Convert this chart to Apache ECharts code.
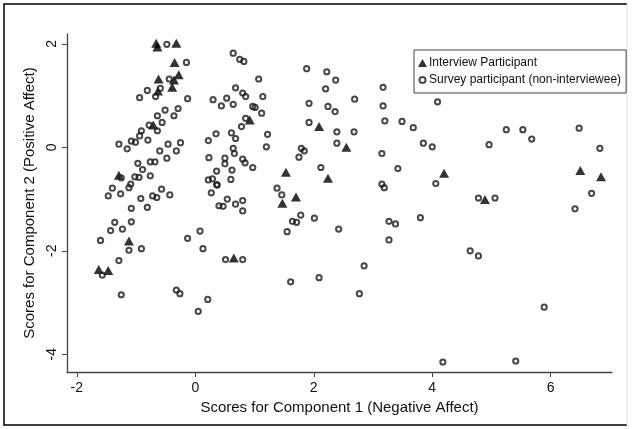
<!DOCTYPE html>
<html>
<head>
<meta charset="utf-8">
<script src="https://cdn.jsdelivr.net/npm/echarts@6/dist/echarts.min.js"></script>
<style>
  html, body { margin: 0; padding: 0; background: #fff; }
  #main { width: 638px; height: 429px; }
</style>
</head>
<body>
<div id="main"></div>
<script>
// 坐标轴刻度
var xTicks = [-2, 0, 2, 4, 6];
var yTicks = [-4, -2, 0, 2];

// Interview Participant (triangles)
var interviewPts = [
  [-0.66, 2.01], [-0.64, 1.94], [-0.32, 2.01], [-0.35, 1.64], [-0.62, 1.32],
  [-0.28, 1.40], [-0.36, 1.30], [-0.39, 1.16], [-0.63, 1.09], [-0.71, 0.43],
  [-1.29, -0.54], [-1.12, -1.81], [-1.63, -2.36], [-1.47, -2.38], [0.92, 0.53],
  [2.09, 0.40], [2.55, 0.00], [0.65, -2.14], [1.53, -0.48], [2.24, -0.60],
  [1.70, -0.96], [1.47, -1.08], [4.20, -0.50], [4.89, -1.01], [6.50, -0.45],
  [6.85, -0.57]
];

// Survey participant (non-interviewee) (hollow circles)
var surveyPts = [
  [-0.48, 1.99], [-0.15, 1.64], [-0.44, 1.32], [-0.59, 1.14], [-0.81, 1.10],
  [-0.94, 0.96], [-0.67, 0.98], [-0.13, 0.94], [0.30, 0.92], [-0.29, 0.75],
  [-0.51, 0.72], [-0.64, 0.61], [-0.36, 0.61], [-0.56, 0.48], [-0.78, 0.43],
  [-0.91, 0.32], [-0.64, 0.32], [-0.94, 0.22], [-1.29, 0.06], [-1.08, 0.12],
  [-1.01, 0.10], [-0.80, 0.14], [-1.15, -0.03], [-0.46, 0.06], [-0.25, 0.09],
  [-0.60, -0.07], [-0.32, -0.07], [0.22, 0.13], [0.35, 0.26], [0.23, -0.20],
  [-0.48, -0.21], [-0.97, -0.31], [-0.76, -0.28], [-0.68, -0.28], [-0.89, -0.43],
  [-1.25, -0.59], [-1.02, -0.57], [-0.95, -0.58], [-0.76, -0.55], [-1.09, -0.71],
  [-1.12, -0.78], [-1.40, -0.79], [-1.26, -0.90], [-1.47, -0.94], [-0.92, -0.99],
  [-0.72, -0.94], [-0.65, -0.97], [-0.57, -0.81], [-0.43, -0.92], [-1.08, -1.18],
  [-0.81, -1.16], [0.36, -0.46], [0.22, -0.63], [0.29, -0.61], [0.36, -0.72],
  [0.27, -0.88], [0.40, -1.13], [-1.36, -1.45], [-1.43, -1.61], [-1.23, -1.58],
  [-1.08, -1.44], [-1.60, -1.80], [-1.12, -1.99], [-0.91, -1.96], [-1.29, -2.19],
  [-1.57, -2.47], [-1.25, -2.85], [-0.32, -2.76], [-0.26, -2.83], [0.21, -2.94],
  [0.08, -1.62], [-0.13, -1.76], [0.13, -1.96], [0.05, -3.17],
  [0.64, 1.82], [0.75, 1.70], [0.82, 1.66], [1.07, 1.32], [0.68, 1.15],
  [0.80, 1.05], [0.85, 0.98], [1.14, 0.98], [0.53, 0.95], [0.44, 0.80],
  [0.64, 0.83], [0.97, 0.79], [1.01, 0.77], [1.12, 0.66], [0.85, 0.56],
  [0.78, 0.40], [1.22, 0.25], [1.20, 0.01], [0.61, 0.28], [0.68, 0.17],
  [0.64, -0.02], [0.66, -0.12], [0.50, -0.21], [0.80, -0.23],
  [1.88, 1.52], [2.22, 1.46], [2.37, 1.30], [2.20, 1.13], [2.69, 0.93],
  [1.92, 0.85], [2.24, 0.79], [2.36, 0.69], [1.92, 0.48], [2.39, 0.30],
  [2.68, 0.30], [2.39, 0.08], [1.79, -0.02], [1.84, -0.07], [1.75, -0.19],
  [0.50, -0.32], [0.84, -0.30], [0.97, -0.39], [0.62, -0.44], [0.60, -0.62],
  [0.37, -0.73], [0.54, -1.00], [0.80, -1.03], [0.47, -1.14], [0.68, -1.10],
  [0.80, -1.23], [0.51, -2.17], [0.80, -2.17], [1.61, -2.60], [2.09, -2.52],
  [2.77, -2.83], [2.12, -0.39], [1.38, -0.79], [1.46, -0.92], [1.78, -1.31],
  [1.64, -1.43], [1.71, -1.45], [2.01, -1.37], [1.55, -1.63], [2.42, -1.58],
  [3.17, 1.16], [3.17, 0.80], [4.09, 0.88], [3.20, 0.51], [3.49, 0.50],
  [3.68, 0.38], [3.85, 0.08], [4.00, 0.01], [4.96, 0.05], [3.15, -0.12],
  [3.42, -0.41], [4.06, -0.70], [3.15, -0.71], [3.19, -0.78], [4.78, -0.98],
  [5.06, -0.98], [3.80, -1.36], [3.27, -1.43], [3.38, -1.48], [3.27, -1.79],
  [4.64, -2.00], [4.78, -2.10], [2.85, -2.29],
  [5.25, 0.34], [5.53, 0.34], [5.68, 0.16], [6.48, 0.37], [6.83, -0.02],
  [6.69, -0.89], [6.41, -1.19], [5.89, -3.09], [4.18, -4.15], [5.41, -4.13]
];

var font = '"Liberation Sans", Arial, Helvetica, sans-serif';
var axisColor = '#444';

var myChart = echarts.init(document.getElementById('main'));
var option = {
  backgroundColor: '#fff',
  animation: false,
  textStyle: { fontFamily: font },
  grid: {
    left: 67,
    top: 34,
    width: 545,
    height: 338
  },
  legend: {
    orient: 'vertical',
    left: 414,
    top: 50,
    padding: [7, 5, 7, 3],
    itemGap: 5,
    itemWidth: 9,
    itemHeight: 8,
    borderColor: '#444',
    borderWidth: 1,
    textStyle: { fontFamily: font, fontSize: 12, color: '#111', padding: [0, 0, 0, -3] },
    data: [
      { name: 'Interview Participant' },
      // 小圆圈图例: 用透明的外框点保持图标尺寸
      { name: 'Survey participant (non-interviewee)', icon: 'path://M0 0M9 8M1.5 4a3 3 0 1 0 6 0a3 3 0 1 0 -6 0z' }
    ]
  },
  xAxis: {
    type: 'value',
    min: -2.166,
    max: 7.035,
    name: 'Scores for Component 1 (Negative Affect)',
    nameLocation: 'middle',
    nameGap: 27,
    nameTextStyle: { fontFamily: font, fontSize: 15, color: '#111' },
    axisLine: { onZero: false, lineStyle: { color: axisColor, width: 1.3 } },
    axisTick: { show: true, length: 5, customValues: xTicks, lineStyle: { color: axisColor } },
    axisLabel: { customValues: xTicks, fontFamily: font, fontSize: 14, color: '#111', margin: 9 },
    splitLine: { show: false }
  },
  yAxis: {
    type: 'value',
    min: -4.343,
    max: 2.19,
    name: 'Scores for Component 2 (Positive Affect)',
    nameLocation: 'middle',
    nameRotate: 90,
    nameGap: 22,
    nameTextStyle: { fontFamily: font, fontSize: 15, color: '#111' },
    axisLine: { show: true, onZero: false, lineStyle: { color: axisColor, width: 1.3 } },
    axisTick: { show: true, length: 5, customValues: yTicks, lineStyle: { color: axisColor } },
    axisLabel: { customValues: yTicks, rotate: 90, fontFamily: font, fontSize: 14, color: '#111', margin: 8 },
    splitLine: { show: false }
  },
  series: [
    {
      name: 'Interview Participant',
      type: 'scatter',
      symbol: 'triangle',
      symbolSize: [10, 9],
      itemStyle: { color: '#000' },
      data: interviewPts
    },
    {
      name: 'Survey participant (non-interviewee)',
      type: 'scatter',
      symbol: 'circle',
      symbolSize: 5.2,
      itemStyle: { color: 'rgba(255,255,255,0)', borderColor: '#1a1a1a', borderWidth: 2 },
      data: surveyPts
    }
  ],
  graphic: [
    {
      type: 'polyline',
      shape: { points: [[627, 4], [4, 4], [4, 425], [627, 425]] },
      style: { stroke: '#000', lineWidth: 1.5, fill: null },
      silent: true
    },
    {
      type: 'line',
      shape: { x1: 627, y1: 4, x2: 627, y2: 425 },
      style: { stroke: '#ddd', lineWidth: 1 },
      silent: true
    }
  ]
};
myChart.setOption(option);
</script>
</body>
</html>
